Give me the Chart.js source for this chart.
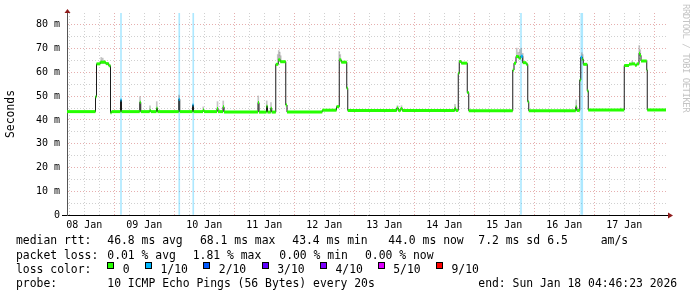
<!DOCTYPE html>
<html>
<head>
<meta charset="utf-8">
<title>SmokePing – median rtt, last 10 days</title>
<script src="https://cdn.jsdelivr.net/npm/chart.js@4.4.1/dist/chart.umd.min.js"></script>
<style>
  html, body { margin: 0; padding: 0; background: #fff; }
  #wrap { position: relative; width: 697px; height: 297px; overflow: hidden;
          font-family: "DejaVu Sans Mono", monospace; color: #000; }
  #rtt { position: absolute; left: 0; top: 0; }
  .t { position: absolute; font-size: 11.4px; line-height: 14px; white-space: pre; }
  .box { position: absolute; top: 262px; width: 7px; height: 7px; box-sizing: border-box; border: 1px solid #000; }
  #credit { position: absolute; left: 681px; top: 4px; font-size: 9px; letter-spacing: -0.5px;
            writing-mode: vertical-rl; color: #c4c4c4; white-space: pre; }
</style>
</head>
<body>
<div id="wrap">
  <canvas id="rtt" width="697" height="235"></canvas>
  <div id="credit">RRDTOOL / TOBI OETIKER</div>

  <div class="t" style="left:16px;top:233.4px">median rtt:</div>
  <div class="t" style="left:107.3px;top:233.4px">46.8 ms avg</div>
  <div class="t" style="left:200px;top:233.4px">68.1 ms max</div>
  <div class="t" style="left:292.3px;top:233.4px">43.4 ms min</div>
  <div class="t" style="left:388.3px;top:233.4px">44.0 ms now</div>
  <div class="t" style="left:478.3px;top:233.4px">7.2 ms sd</div>
  <div class="t" style="left:547.3px;top:233.4px">6.5</div>
  <div class="t" style="left:600.7px;top:233.4px">am/s</div>

  <div class="t" style="left:16px;top:247.8px">packet loss:</div>
  <div class="t" style="left:107.3px;top:247.8px">0.01 % avg</div>
  <div class="t" style="left:192.7px;top:247.8px">1.81 % max</div>
  <div class="t" style="left:279.3px;top:247.8px">0.00 % min</div>
  <div class="t" style="left:365px;top:247.8px">0.00 % now</div>

  <div class="t" style="left:16px;top:262.1px">loss color:</div>
  <div id="lossLegend"></div>

  <div class="t" style="left:16px;top:276.4px">probe:</div>
  <div class="t" style="left:107.3px;top:276.4px">10 ICMP Echo Pings (56 Bytes) every 20s</div>
  <div class="t" style="left:478.3px;top:276.4px">end: Sun Jan 18 04:46:23 2026</div>
</div>

<script>
// time axis: hours since 08 Jan 00:00, window ends Jan 18 04:46
const X_MIN = 5.1;
const X_MAX = 245.1;
const Y_MAX = 85;
const lastSampleHour = 244.7;

const dayLabels = ["08 Jan", "09 Jan", "10 Jan", "11 Jan", "12 Jan",
                   "13 Jan", "14 Jan", "15 Jan", "16 Jan", "17 Jan"];
const yTickLabels = ["0", "10 m", "20 m", "30 m", "40 m", "50 m", "60 m", "70 m", "80 m"];

// median rtt as steps: value holds from stepHours[i] until the next step
const stepHours = [
  5.1, 16.5, 16.9, 18.4, 20.6, 21.8, 22.5, 22.9,
  26.5, 26.9, 34.2, 34.6, 38.2, 38.6, 40.9, 41.3,
  49.8, 50.2, 55.3, 55.7, 59.5, 59.9, 65.1, 65.5,
  67.5, 67.9, 81.5, 81.9, 84.9, 85.3, 86.6, 87.0,
  88.6, 89.6, 90.4, 92.6, 93.1, 107.2, 112.9, 114.0,
  114.8, 117.0, 117.4, 137.0, 137.6, 138.6, 139.2, 160.2,
  160.6, 161.6, 162.0, 162.8, 165.2, 165.8, 183.4, 183.9,
  184.7, 185.8, 186.6, 187.4, 188.8, 189.4, 189.8, 208.6,
  209.0, 210.2, 210.6, 211.2, 211.6, 213.2, 213.6, 228.0,
  229.9, 231.0, 232.3, 233.0, 233.9, 234.3, 234.7, 237.0,
  237.2,
];
const stepMs = [
  43.5, 49.8, 63.6, 64.3, 63.7, 62.8, 43.0, 43.5,
  48.4, 43.5, 47.4, 43.5, 44.0, 43.5, 44.9, 43.5,
  48.7, 43.5, 46.3, 43.5, 44.2, 43.5, 44.8, 43.5,
  45.5, 43.3, 47.3, 43.3, 45.8, 43.3, 44.9, 43.3,
  63.4, 65.3, 64.5, 46.3, 43.3, 44.1, 45.6, 65.3,
  64.3, 53.3, 44.0, 45.0, 44.0, 44.8, 44.0, 44.9,
  44.0, 59.6, 64.6, 63.9, 51.5, 43.9, 61.0, 63.9,
  66.7, 66.0, 66.8, 64.1, 63.4, 47.7, 43.9, 45.5,
  44.0, 56.8, 66.4, 65.5, 63.4, 52.3, 44.2, 62.9,
  63.5, 63.6, 63.0, 63.6, 68.1, 67.2, 64.8, 61.0,
  44.2,
];

// smoke (spread of the 10 pings) where it shows above the median
const smokeHours = [18.8, 19.4, 20.0, 34.3, 38.3, 41.0, 49.9, 59.6, 65.3, 67.6,
                    81.6, 85.0, 86.7, 89.4, 89.8, 90.2, 90.6, 114.0, 114.4, 137.3,
                    138.9, 160.3, 185.0, 185.6, 186.2, 186.8, 187.4, 208.8, 211.0, 211.4,
                    226.6, 231.2, 234.0, 234.4];
const smokeLow = [63.8, 63.8, 63.8, 47.4, 43.6, 44.9, 48.7, 43.6, 44.8, 45.5,
                  47.3, 45.8, 44.9, 65.3, 65.3, 65.3, 64.8, 65.3, 65.3, 45.0,
                  44.8, 44.9, 66.7, 66.0, 66.0, 66.8, 64.1, 45.5, 66.4, 65.5,
                  44.0, 63.6, 68.1, 67.2];
const smokeHigh = [66.3, 66.0, 65.0, 49.8, 45.9, 47.7, 50.5, 45.5, 47.7, 48.0,
                   50.1, 48.0, 47.3, 67.5, 69.2, 68.5, 67.0, 68.8, 67.5, 46.0,
                   46.0, 46.6, 70.2, 68.5, 69.5, 70.2, 68.0, 48.4, 68.3, 67.5,
                   45.0, 64.8, 71.3, 69.5];

// packet loss events (full-height markers), lost pings per event
const lossHours = [26.7, 50.0, 55.6, 186.7, 211.0];
const lossCount = [1, 1, 1, 1, 2];

const lossLegendLabels = ["0", "1/10", "2/10", "3/10", "4/10", "5/10", "9/10"];
const LOSS_COLORS = ["#26ff00", "#00b8ff", "#0059ff", "#5e00ff", "#7e00ff", "#dd00ff", "#ff0000"];

/** loss colour legend row */
function renderLossLegend() {
  const boxLeft = [107.3, 145, 203.3, 261.7, 320, 377.7, 436];
  const root = document.getElementById("lossLegend");
  root.innerHTML = lossLegendLabels
    .map(
      (label, i) => `
      <div class="box" style="left:${boxLeft[i]}px;background:${LOSS_COLORS[i]}"></div>
      <div class="t" style="left:${boxLeft[i] + 15.5}px;top:262.1px">${label}</div>`
    )
    .join("");
}

const medianPoints = stepHours.map((h, i) => ({ x: h, y: stepMs[i] }));
medianPoints.push({ x: lastSampleHour, y: stepMs[stepMs.length - 1] });

// horizontal pieces only, so the jumps show the thin dark median line
const bandPoints = [];
stepHours.forEach((h, i) => {
  const end = i + 1 < stepHours.length ? stepHours[i + 1] : lastSampleHour;
  bandPoints.push({ x: h, y: stepMs[i] }, { x: end, y: stepMs[i] }, { x: end, y: null });
});

const GRID_MAJOR = "rgba(205, 95, 95, 0.5)";
const GRID_MINOR = "rgba(150, 150, 150, 0.45)";

const axisArrows = {
  id: "axisArrows",
  afterDraw(chart) {
    const { ctx, chartArea: a } = chart;
    ctx.save();
    ctx.fillStyle = "#8f1c1c";
    ctx.beginPath();
    ctx.moveTo(a.left - 2.5, a.top);
    ctx.lineTo(a.left + 3.5, a.top);
    ctx.lineTo(a.left + 0.5, a.top - 4);
    ctx.fill();
    ctx.beginPath();
    ctx.moveTo(a.right + 1, a.bottom - 2.5);
    ctx.lineTo(a.right + 1, a.bottom + 3.5);
    ctx.lineTo(a.right + 6, a.bottom + 0.5);
    ctx.fill();
    ctx.restore();
  },
};

Chart.defaults.font.family = '"DejaVu Sans Mono", monospace';
Chart.defaults.color = "#000";

new Chart(document.getElementById("rtt"), {
  type: "line",
  data: {
    datasets: [
      {
        type: "bar",
        data: lossHours.filter((_, i) => lossCount[i] === 1).map((h) => ({ x: h, y: [0, Y_MAX] })),
        backgroundColor: "rgba(0, 184, 255, 0.32)",
        barThickness: 1,
        grouped: false,
        order: 5,
      },
      {
        type: "bar",
        data: lossHours.filter((_, i) => lossCount[i] > 1).map((h) => ({ x: h, y: [0, Y_MAX] })),
        backgroundColor: "rgba(0, 184, 255, 0.32)",
        barThickness: 2,
        grouped: false,
        order: 4,
      },
      {
        type: "bar",
        data: smokeHours.map((h, i) => ({ x: h, y: [smokeLow[i], smokeHigh[i]] })),
        backgroundColor: "rgba(140, 140, 140, 0.5)",
        barThickness: 1,
        grouped: false,
        order: 3,
      },
      {
        data: medianPoints,
        stepped: "before",
        borderColor: "#1c1c1c",
        borderWidth: 1,
        pointRadius: 0,
        order: 2,
      },
      {
        data: bandPoints,
        borderColor: LOSS_COLORS[0],
        borderWidth: 3,
        borderCapStyle: "butt",
        pointRadius: 0,
        spanGaps: false,
        segment: {
          borderColor: (ctx) => {
            const a = ctx.p0.parsed.x;
            const b = ctx.p1.parsed.x;
            return lossHours.some((t) => t >= a && t < b) ? LOSS_COLORS[1] : LOSS_COLORS[0];
          },
        },
        order: 1,
      },
    ],
  },
  options: {
    responsive: false,
    animation: false,
    events: [],
    layout: { padding: { top: 13, right: 30, left: 0, bottom: 0 } },
    plugins: { legend: { display: false }, tooltip: { enabled: false } },
    scales: {
      x: {
        type: "linear",
        offset: false,
        min: X_MIN,
        max: X_MAX,
        afterFit: (scale) => { scale.height = 20; },
        afterBuildTicks: (scale) => {
          const ticks = [];
          for (let h = 6; h <= 240; h += 6) ticks.push({ value: h });
          scale.ticks = ticks;
        },
        ticks: {
          autoSkip: false,
          maxRotation: 0,
          padding: 4,
          font: { size: 10 },
          callback: (v) => ((v - 12) % 24 === 0 ? dayLabels[(v - 12) / 24] : ""),
        },
        grid: {
          offset: false,
          drawTicks: false,
          color: (ctx) => (ctx.tick && ctx.tick.value % 24 === 0 ? GRID_MAJOR : GRID_MINOR),
        },
        border: { color: "#000", width: 1, dash: [1, 2] },
      },
      y: {
        min: 0,
        max: Y_MAX,
        afterFit: (scale) => { scale.width = 67; },
        afterBuildTicks: (scale) => {
          const ticks = [];
          for (let v = 0; v <= 80; v += 5) ticks.push({ value: v });
          scale.ticks = ticks;
        },
        ticks: {
          autoSkip: false,
          padding: 2,
          font: { size: 10 },
          callback: (v) => (v % 10 === 0 ? yTickLabels[v / 10] : ""),
        },
        grid: {
          tickLength: 5,
          color: (ctx) => (ctx.tick && ctx.tick.value % 10 === 0 ? GRID_MAJOR : GRID_MINOR),
          tickColor: (ctx) => (ctx.tick && ctx.tick.value === 0 ? "#000" : "rgba(0,0,0,0)"),
        },
        border: { color: "#555", width: 1, dash: [1, 2] },
        title: {
          display: true,
          text: "Seconds",
          font: { size: 11.4 },
          padding: { top: 4, bottom: 0 },
        },
      },
    },
  },
  plugins: [axisArrows],
});

renderLossLegend();
</script>
</body>
</html>
